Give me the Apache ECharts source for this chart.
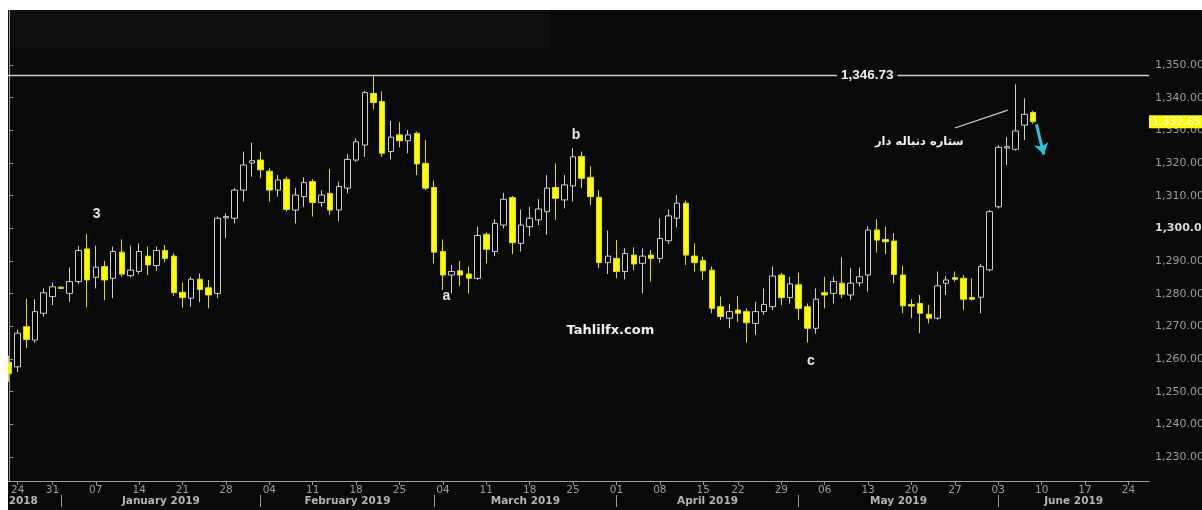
<!DOCTYPE html>
<html><head><meta charset="utf-8">
<script src="https://cdn.jsdelivr.net/npm/echarts@6/dist/echarts.min.js"></script>
<style>
html,body{margin:0;padding:0;background:#fff;width:1202px;height:510px;overflow:hidden}
#c{position:absolute;left:8px;top:10px;width:1194px;height:500px}
</style></head><body><div id="c"></div>
<script>
// ---- categories (trading days) ----
const dates = [
 '2018-12-21','2018-12-24','2018-12-26','2018-12-27','2018-12-28','2018-12-31',
 '2019-01-01','2019-01-02','2019-01-03','2019-01-04',
 '2019-01-07','2019-01-08','2019-01-09','2019-01-10','2019-01-11',
 '2019-01-14','2019-01-15','2019-01-16','2019-01-17','2019-01-18',
 '2019-01-21','2019-01-22','2019-01-23','2019-01-24','2019-01-25',
 '2019-01-28','2019-01-29','2019-01-30','2019-01-31','2019-02-01',
 '2019-02-04','2019-02-05','2019-02-06','2019-02-07','2019-02-08',
 '2019-02-11','2019-02-12','2019-02-13','2019-02-14','2019-02-15',
 '2019-02-18','2019-02-19','2019-02-20','2019-02-21','2019-02-22',
 '2019-02-25','2019-02-26','2019-02-27','2019-02-28','2019-03-01',
 '2019-03-04','2019-03-05','2019-03-06','2019-03-07','2019-03-08',
 '2019-03-11','2019-03-12','2019-03-13','2019-03-14','2019-03-15',
 '2019-03-18','2019-03-19','2019-03-20','2019-03-21','2019-03-22',
 '2019-03-25','2019-03-26','2019-03-27','2019-03-28','2019-03-29',
 '2019-04-01','2019-04-02','2019-04-03','2019-04-04','2019-04-05',
 '2019-04-08','2019-04-09','2019-04-10','2019-04-11','2019-04-12',
 '2019-04-15','2019-04-16','2019-04-17','2019-04-18',
 '2019-04-22','2019-04-23','2019-04-24','2019-04-25','2019-04-26',
 '2019-04-29','2019-04-30','2019-05-01','2019-05-02','2019-05-03',
 '2019-05-06','2019-05-07','2019-05-08','2019-05-09','2019-05-10',
 '2019-05-13','2019-05-14','2019-05-15','2019-05-16','2019-05-17',
 '2019-05-20','2019-05-21','2019-05-22','2019-05-23','2019-05-24',
 '2019-05-27','2019-05-28','2019-05-29','2019-05-30','2019-05-31',
 '2019-06-03','2019-06-04','2019-06-05','2019-06-06','2019-06-07',
 '2019-06-10','2019-06-11','2019-06-12','2019-06-13','2019-06-14',
 '2019-06-17','2019-06-18','2019-06-19','2019-06-20','2019-06-21',
 '2019-06-24','2019-06-25','2019-06-26','2019-06-27','2019-06-28'
];

// ---- OHLC series values (one per trading day, from 2018-12-21) ----
const opens = [
 1259.0,1257.6,1269.9,1265.8,1274.0,1279.1,1282.0,1280.1,1283.7,1293.7,
 1285.0,1288.3,1284.7,1292.7,1285.5,1286.8,1291.5,1288.6,1293.2,1291.5,
 1280.4,1278.6,1284.4,1281.8,1280.1,1303.2,1303.1,1311.7,1320.0,1320.9,
 1317.5,1311.7,1315.0,1305.6,1309.7,1314.3,1307.9,1310.7,1305.6,1312.3,
 1320.9,1325.5,1341.3,1338.8,1323.5,1328.6,1326.8,1329.1,1319.9,1312.5,
 1292.9,1285.7,1287.0,1286.0,1284.7,1298.2,1292.9,1301.0,1309.4,1295.4,
 1300.5,1302.6,1305.1,1312.5,1308.7,1313.0,1322.0,1315.6,1309.5,1289.5,
 1290.8,1286.8,1291.8,1289.3,1291.8,1290.8,1296.2,1303.1,1307.7,1291.5,
 1290.1,1287.2,1276.0,1272.5,1275.0,1274.5,1270.9,1274.5,1276.0,1285.7,
 1278.8,1282.7,1276.0,1269.4,1280.3,1280.1,1283.2,1279.6,1283.3,1285.7,
 1299.5,1296.6,1296.1,1285.7,1276.7,1277.0,1273.7,1272.5,1283.2,1284.9,
 1284.7,1278.8,1278.9,1287.3,1306.6,1324.6,1324.2,1331.6,1335.5
];
const closes = [
 1255.5,1267.9,1266.0,1274.5,1280.3,1282.1,1281.6,1283.7,1293.2,1284.2,
 1288.1,1284.2,1292.9,1286.0,1287.2,1292.9,1288.8,1293.2,1290.8,1280.3,
 1278.8,1284.4,1281.3,1279.6,1303.1,1303.6,1311.7,1319.4,1320.7,1317.9,
 1311.7,1314.8,1305.8,1310.2,1314.0,1307.9,1310.2,1305.6,1312.8,1321.1,
 1326.5,1341.6,1338.5,1323.0,1327.9,1326.8,1328.6,1319.7,1312.3,1292.7,
 1285.7,1286.8,1285.7,1284.7,1297.8,1293.6,1301.5,1308.9,1295.6,1301.0,
 1303.1,1305.9,1312.3,1309.2,1313.3,1321.9,1315.3,1309.7,1289.5,1291.5,
 1286.8,1292.3,1289.1,1291.5,1290.8,1296.9,1303.8,1307.7,1291.8,1289.5,
 1287.0,1275.5,1273.0,1274.5,1274.0,1271.1,1274.5,1276.7,1285.4,1278.8,
 1283.0,1275.5,1269.4,1278.3,1279.6,1283.7,1279.8,1283.2,1285.2,1299.5,
 1296.4,1295.9,1285.9,1276.3,1276.2,1274.0,1272.5,1282.4,1284.2,1284.4,
 1278.3,1278.3,1288.3,1305.1,1324.8,1325.0,1329.8,1334.9,1332.65
];
const lows = [
 1253.0,1256.0,1263.3,1265.0,1273.0,1276.5,1281.5,1277.5,1283.0,1275.8,
 1281.6,1278.0,1278.6,1285.2,1285.0,1286.0,1285.7,1287.0,1289.6,1279.3,
 1275.7,1276.0,1277.4,1275.5,1278.6,1297.0,1301.5,1308.2,1315.8,1315.3,
 1308.2,1309.7,1305.1,1301.5,1306.6,1303.6,1306.6,1304.1,1302.2,1310.7,
 1320.4,1321.9,1336.4,1321.9,1321.1,1324.8,1323.0,1316.3,1311.7,1289.3,
 1281.1,1280.1,1282.3,1280.1,1284.2,1289.3,1291.5,1300.0,1292.1,1292.9,
 1297.7,1301.0,1298.0,1302.6,1306.1,1308.2,1312.3,1307.1,1287.8,1286.0,
 1284.7,1284.4,1287.2,1280.1,1283.7,1289.5,1295.2,1300.3,1288.8,1286.8,
 1284.2,1274.0,1272.0,1269.4,1271.4,1265.0,1267.4,1273.5,1275.0,1276.5,
 1277.0,1272.0,1265.0,1267.7,1275.5,1277.0,1278.6,1278.1,1282.2,1280.6,
 1292.6,1292.1,1283.2,1274.0,1272.5,1267.9,1270.9,1272.0,1279.6,1283.7,
 1275.0,1277.9,1274.0,1286.8,1306.1,1319.4,1323.8,1327.0,1332.0
];
const highs = [
 1261.0,1269.0,1278.4,1278.3,1281.6,1283.4,1282.1,1288.0,1294.6,1298.2,
 1294.7,1290.0,1294.4,1296.6,1294.7,1295.4,1294.4,1294.4,1294.9,1292.3,
 1283.4,1285.2,1286.2,1284.2,1303.6,1304.6,1312.3,1323.5,1326.2,1323.5,
 1318.4,1316.4,1315.8,1312.3,1315.6,1315.1,1311.7,1318.2,1314.3,1322.8,
 1327.6,1342.1,1346.73,1341.9,1332.9,1332.5,1330.1,1329.6,1327.0,1314.6,
 1296.6,1288.8,1290.0,1288.3,1300.5,1298.7,1302.8,1310.9,1309.9,1305.8,
 1306.6,1308.9,1316.3,1319.9,1316.3,1324.6,1323.5,1319.0,1311.7,1299.3,
 1296.4,1293.9,1294.2,1293.9,1293.4,1303.1,1305.8,1310.2,1308.5,1295.4,
 1291.3,1288.3,1279.1,1276.8,1279.3,1275.5,1277.5,1281.6,1288.3,1286.4,
 1285.2,1286.4,1277.0,1281.6,1285.2,1285.2,1291.1,1287.8,1288.0,1300.7,
 1302.8,1300.5,1298.5,1288.5,1278.3,1279.6,1276.5,1286.8,1285.4,1286.8,
 1285.7,1284.7,1289.1,1305.6,1325.5,1327.9,1344.1,1339.8,1336.0
];

// ---- tick labels ----
const weekTicks = ['2018-12-24','2018-12-31','2019-01-07','2019-01-14','2019-01-21','2019-01-28',
 '2019-02-04','2019-02-11','2019-02-18','2019-02-25','2019-03-04','2019-03-11','2019-03-18','2019-03-25',
 '2019-04-01','2019-04-08','2019-04-15','2019-04-22','2019-04-29','2019-05-06','2019-05-13','2019-05-20',
 '2019-05-27','2019-06-03','2019-06-10','2019-06-17','2019-06-24'];
const monthKeys = ['2018-12','2019-01','2019-02','2019-03','2019-04','2019-05','2019-06'];
const monthLabels = ['2018','January 2019','February 2019','March 2019','April 2019','May 2019','June 2019'];
const yTicks = [1230,1240,1250,1260,1270,1280,1290,1300,1310,1320,1330,1340,1350];
const peakLevel = 1346.73;
const lastPrice = closes[closes.length-1];
const caption = 'ستاره دنباله دار';

// ---- layout constants ----
const X_MIN = -0.115, X_MAX = 131.37;
const Y_MIN = 1222.65, Y_MAX = 1366.84;

const weekIdx = weekTicks.map(d => dates.indexOf(d));
const dayLabel = {};
weekIdx.forEach((ix, k) => { dayLabel[ix] = weekTicks[k].slice(8); });
const monthStart = monthKeys.map(k => dates.findIndex(d => d.startsWith(k)));
const monthCenters = monthKeys.map((k, i) => {
  const a = i === 0 ? X_MIN : monthStart[i];
  const b = i === monthKeys.length - 1 ? X_MAX : monthStart[i + 1];
  return i === 0 ? (a + b) / 2 - 1.3 : (a + b) / 2;
});
const fmtPrice = v => v.toLocaleString('en-US', {minimumFractionDigits: 2, maximumFractionDigits: 2});

const ohlc = opens.map((o, i) => [i, o, closes[i], lows[i], highs[i]]);

const txt = (coord, text, style) => ({
  coord, symbol: 'circle', symbolSize: 0,
  label: Object.assign({show: true, position: 'inside', formatter: text, color: '#e6e6e6',
    fontWeight: 'bold', fontFamily: 'Liberation Sans', fontSize: 14}, style || {})
});

const chart = echarts.init(document.getElementById('c'), null, {renderer: 'canvas'});
chart.setOption({
  animation: false,
  backgroundColor: '#090909',
  graphic: [
    {type: 'rect', z: -10, shape: {x: 0, y: 0, width: 542, height: 38}, style: {fill: '#0f0f0f'}}
  ],
  grid: {left: 0, top: 0, right: 53, bottom: 29, show: false, containLabel: false, outerBoundsMode: 'none'},
  xAxis: [{
    type: 'value', min: X_MIN, max: X_MAX, position: 'bottom',
    axisLine: {show: true, onZero: false, lineStyle: {color: '#a0a0a0', width: 1}},
    axisTick: {show: true, length: 4, customValues: weekIdx, lineStyle: {color: '#9a9a9a'}},
    axisLabel: {customValues: weekIdx, margin: 4, color: '#9c9c9c', fontSize: 10.5,
      fontFamily: 'DejaVu Sans', formatter: v => dayLabel[Math.round(v)] || ''},
    splitLine: {show: false}
  }, {
    type: 'value', min: X_MIN, max: X_MAX, position: 'bottom', offset: 14,
    axisLine: {show: false},
    axisTick: {show: true, length: 12, customValues: monthStart.slice(1), lineStyle: {color: '#9a9a9a'}},
    axisLabel: {customValues: monthCenters, margin: 1, color: '#b4b4b4', fontSize: 10.5,
      fontWeight: 'bold', fontFamily: 'DejaVu Sans',
      formatter: v => { const i = monthCenters.findIndex(c => Math.abs(c - v) < 1e-6); return i >= 0 ? monthLabels[i] : ''; }},
    splitLine: {show: false}
  }],
  yAxis: {
    type: 'value', position: 'right', min: Y_MIN, max: Y_MAX,
    axisLine: {show: true, lineStyle: {color: '#a0a0a0'}},
    axisTick: {show: true, length: 4, customValues: yTicks, lineStyle: {color: '#9a9a9a'}},
    axisLabel: {customValues: yTicks, margin: 6, fontFamily: 'DejaVu Sans', fontSize: 11,
      formatter: v => (v === 1300 ? '{b|' + fmtPrice(v) + '}' : '{n|' + fmtPrice(v) + '}'),
      rich: {n: {color: '#9c9c9c', fontSize: 11, fontFamily: 'DejaVu Sans'},
             b: {color: '#d8d8d8', fontSize: 11, fontWeight: 'bold', fontFamily: 'DejaVu Sans'}}},
    splitLine: {show: false}
  },
  series: [{
    type: 'candlestick',
    data: ohlc,
    encode: {x: 0, y: [1, 2, 3, 4]},
    barWidth: 6,
    itemStyle: {color: '#000000', color0: '#ffff00', borderColor: '#cdcdcd', borderColor0: '#dede00', borderWidth: 1},
    markLine: {
      silent: true, symbol: ['none', 'none'], animation: false,
      data: [
        {yAxis: peakLevel, lineStyle: {color: '#cfcfcf', width: 1.3, type: 'solid'}, label: {show: false}},
        [{coord: [109.0, 1330.7], lineStyle: {color: '#d0d0d0', width: 1.2, type: 'solid'}, label: {show: false}},
         {coord: [115.1, 1336.2]}],
        [{coord: [118.4, 1331.8], symbol: 'none', lineStyle: {color: '#26c6da', width: 3, type: 'solid'}, label: {show: false}},
         {coord: [119.25, 1322.6], symbol: 'arrow', symbolSize: [11, 11]}]
      ]
    },
    markPoint: {
      silent: true, animation: false,
      data: [
        txt([98.9, peakLevel], fmtPrice(peakLevel), {color: '#f2f2f2', fontSize: 13.5, backgroundColor: '#090909', padding: [2, 4]}),
        txt([10.1, 1304.4], '3'),
        txt([50.4, 1279.2], 'a'),
        txt([65.35, 1328.6], 'b'),
        txt([92.4, 1259.4], 'c'),
        txt([69.3, 1268.6], 'Tahlilfx.com', {color: '#f0f0f0', fontSize: 13, fontFamily: 'DejaVu Sans'}),
        txt([104.9, 1326.4], caption, {color: '#f0f0f0', fontSize: 11.5, fontFamily: 'DejaVu Sans'}),
        {coord: [X_MAX, lastPrice], symbol: 'circle', symbolSize: 0,
         label: {show: true, position: 'right', distance: 0, formatter: fmtPrice(lastPrice),
           backgroundColor: '#ffff00', color: '#ffffff', fontFamily: 'DejaVu Sans', fontSize: 11,
           padding: [1, 8, 1, 3]}}
      ]
    }
  }]
});
</script></body></html>
